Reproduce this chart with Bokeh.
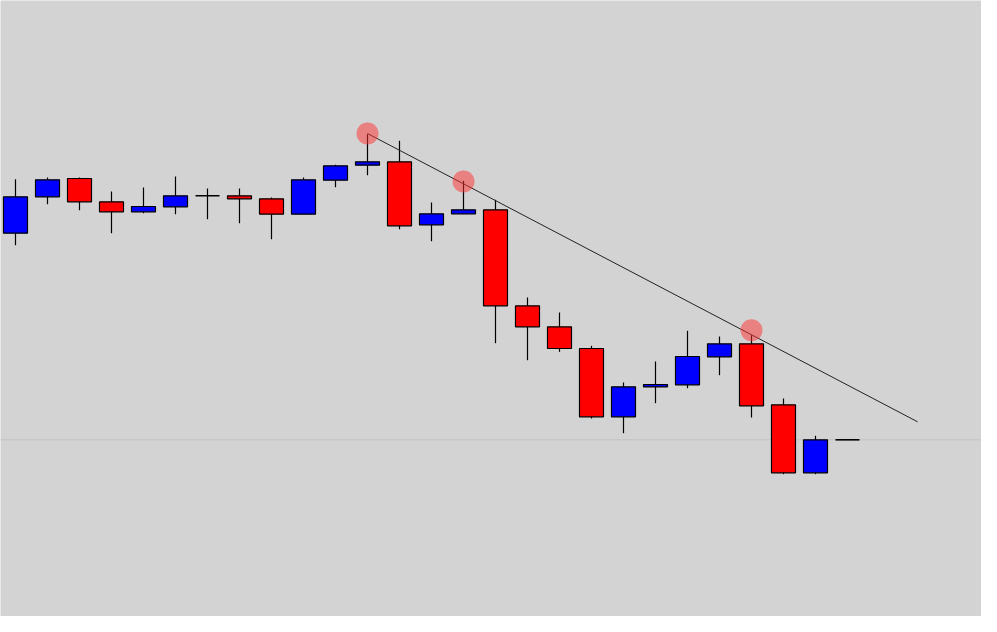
from bokeh.plotting import figure
from bokeh.models import Range1d, ColumnDataSource, Span
from bokeh.embed import file_html
from bokeh.resources import INLINE

# Candle data (bar index, open, high, low, close) in price units
bar_index = list(range(-1, 27))
opens  = [359.3, 359.3, 395.7, 414.0, 390.7, 380.7, 385.7, 396.7, 396.7, 393.7, 378.3,
          412.3, 427.3, 430.7, 367.7, 378.7, 382.7, 286.7, 265.7, 244.0, 175.7,
          205.7, 207.7, 235.7, 248.7, 187.7, 119.7, 152.7]
highs  = [359.3, 413.3, 415.0, 415.0, 401.0, 405.0, 416.0, 404.0, 404.0, 395.0, 415.0,
          427.7, 458.3, 451.7, 390.0, 411.7, 392.7, 295.0, 280.0, 246.7, 210.0,
          231.0, 261.7, 256.0, 257.3, 194.0, 156.7, 152.7]
lows   = [359.3, 347.3, 388.3, 382.3, 359.3, 379.3, 378.3, 373.3, 369.3, 353.3, 378.3,
          405.3, 417.3, 363.3, 351.3, 378.7, 249.3, 232.3, 240.7, 174.0, 159.3,
          189.3, 204.3, 217.3, 175.0, 118.3, 118.3, 152.7]
closes = [359.3, 395.7, 412.7, 390.7, 380.7, 386.0, 396.7, 396.7, 393.7, 378.3, 412.7,
          426.7, 430.7, 366.7, 378.7, 382.7, 286.7, 265.7, 244.0, 175.7, 205.7,
          208.0, 236.0, 248.7, 186.7, 119.7, 152.7, 152.7]

# Trendline anchor points (bar index, price)
trend_x = [11, 28.19]
trend_y = [459.0, 170.7]

# Marked touch points on the trendline
touch_x = [11, 14, 23]
touch_y = [459.0, 411.0, 262.3]

# Current price level
current_price = 152.7

BG = "#d3d3d3"
UP = "#0000ff"
DOWN = "#ff0000"
BODY_W = 0.75

p = figure(width=981, height=616, output_backend="svg", toolbar_location=None,
           x_range=Range1d(-0.46875, 30.1875), y_range=Range1d(-24, 592),
           min_border=0, background_fill_color=BG, border_fill_color=BG,
           outline_line_color=None)
p.axis.visible = False
p.grid.visible = False

# current price line (behind the candles)
p.add_layout(Span(location=current_price, dimension="width", level="underlay",
                  line_color="#c2c2c2", line_width=1))

# wicks
p.segment(x0=bar_index, y0=lows, x1=bar_index, y1=highs, line_color="black", line_width=1.2)

bx, btop, bbot, bcol = [], [], [], []
dx0, dx1, dy = [], [], []
for i, o, c in zip(bar_index, opens, closes):
    if abs(o - c) < 0.5:
        dx0.append(i - BODY_W / 2)
        dx1.append(i + BODY_W / 2)
        dy.append(o)
    else:
        bx.append(i)
        btop.append(max(o, c))
        bbot.append(min(o, c))
        bcol.append(UP if c > o else DOWN)

src = ColumnDataSource(dict(x=bx, top=btop, bottom=bbot, color=bcol))
p.vbar(x="x", top="top", bottom="bottom", width=BODY_W, source=src,
       fill_color="color", line_color="black", line_width=1.2)
p.segment(x0=dx0, y0=dy, x1=dx1, y1=dy, line_color="black", line_width=1.6)

# trendline
p.line(trend_x, trend_y, line_color="#222222", line_width=1)

# touch markers
p.scatter(touch_x, touch_y, size=22, fill_color="#ff3030", fill_alpha=0.5, line_color=None)

open("out.html", "w").write(file_html(p, INLINE))
